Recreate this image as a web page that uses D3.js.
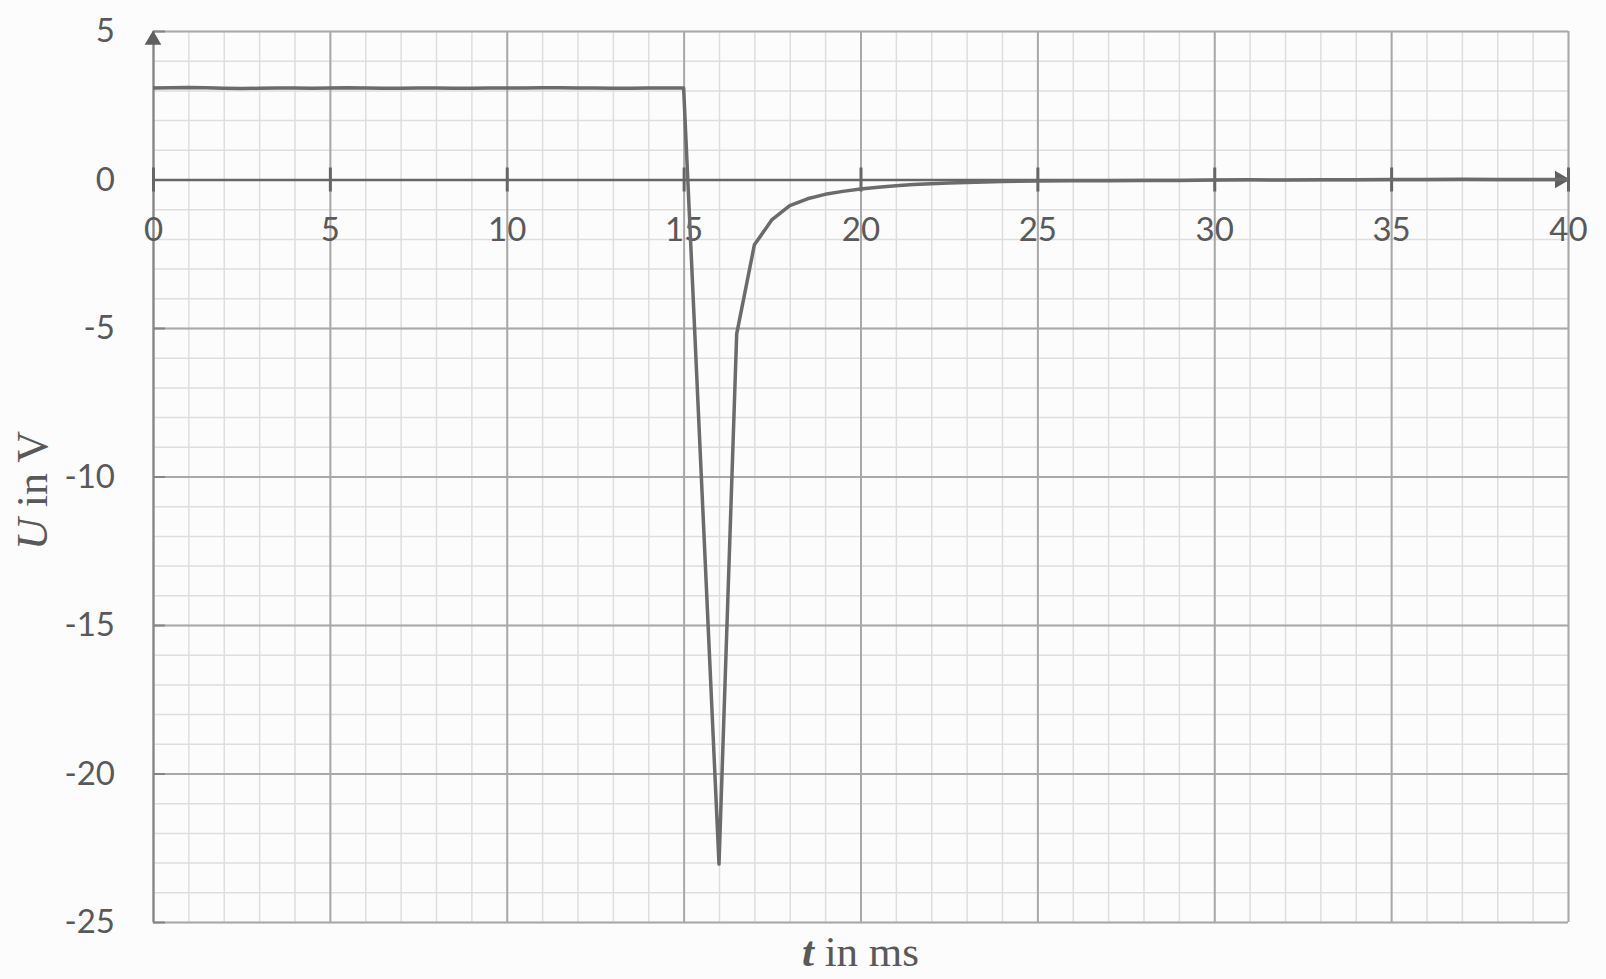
<!DOCTYPE html>
<html>
<head>
<meta charset="utf-8">
<script src="https://cdn.jsdelivr.net/npm/d3@7"></script>
<style>
  html, body { margin: 0; padding: 0; background: #fcfcfc; }
  svg { display: block; }
</style>
</head>
<body>
<svg id="chart" width="1606" height="979"></svg>
<script>
// measured signal
var time = [0, 0.5, 1, 1.5, 2, 2.5, 3, 3.5, 4, 4.5, 5, 5.5, 6, 6.5, 7, 7.5, 8, 8.5, 9, 9.5,
  10, 10.5, 11, 11.5, 12, 12.5, 13, 13.5, 14, 14.5, 15, 16, 16.5, 17, 17.5, 18, 18.5, 19, 19.5,
  20, 20.5, 21, 21.5, 22, 22.5, 23, 24, 25, 26, 27, 28, 29, 30, 31, 32, 33, 34, 35, 36, 37, 38, 39, 40];
var voltage = [3.08, 3.09, 3.10, 3.09, 3.07, 3.06, 3.07, 3.08, 3.08, 3.07, 3.08, 3.09, 3.08, 3.07, 3.07, 3.08, 3.08, 3.07, 3.07, 3.08,
  3.08, 3.08, 3.09, 3.09, 3.08, 3.08, 3.07, 3.07, 3.08, 3.08, 3.08, -23.05, -5.2, -2.2, -1.35, -0.88, -0.65, -0.5, -0.4,
  -0.32, -0.26, -0.21, -0.17, -0.14, -0.12, -0.1, -0.07, -0.05, -0.04, -0.04, -0.03, -0.03, -0.02, -0.01, -0.02, -0.01, -0.01, 0, 0, 0.01, 0, 0, 0];

var xTicks = [0, 5, 10, 15, 20, 25, 30, 35, 40];
var yTicks = [5, 0, -5, -10, -15, -20, -25];

var svg = d3.select("#chart");
var margin = {top: 31, right: 38, bottom: 57, left: 153};
var width = 1606 - margin.left - margin.right,
    height = 979 - margin.top - margin.bottom;

var xScale = d3.scaleLinear().domain([0, 40]).range([margin.left, margin.left + width]);
var yScale = d3.scaleLinear().domain([-25, 5]).range([margin.top + height, margin.top]);

// plain hyphen like the original labels
var fmt = function(d) { return String(d); };

var g = svg.append("g");

// minor grid, every 1 ms / 1 V
g.append("g")
  .attr("transform", "translate(" + margin.left + ",0)")
  .call(d3.axisLeft(yScale).ticks(30).tickSize(-width).tickFormat(""))
  .call(function(s) { s.select(".domain").remove(); })
  .selectAll("line").attr("stroke", "#dedede").attr("stroke-width", 1.5);
g.append("g")
  .attr("transform", "translate(0," + margin.top + ")")
  .call(d3.axisTop(xScale).ticks(40).tickSize(-height).tickFormat(""))
  .call(function(s) { s.select(".domain").remove(); })
  .selectAll("line").attr("stroke", "#dedede").attr("stroke-width", 1.5);

// major grid
g.append("g")
  .attr("transform", "translate(" + margin.left + ",0)")
  .call(d3.axisLeft(yScale).tickValues(yTicks).tickSize(-width).tickFormat(""))
  .call(function(s) { s.select(".domain").remove(); })
  .selectAll("line").attr("stroke", "#a8a8a8").attr("stroke-width", 2);
g.append("g")
  .attr("transform", "translate(0," + margin.top + ")")
  .call(d3.axisTop(xScale).tickValues(xTicks).tickSize(-height).tickFormat(""))
  .call(function(s) { s.select(".domain").remove(); })
  .selectAll("line").attr("stroke", "#a8a8a8").attr("stroke-width", 2);

// y axis with crossing ticks
var yAxis = g.append("g")
  .attr("transform", "translate(" + margin.left + ",0)")
  .call(d3.axisLeft(yScale).tickValues(yTicks).tickFormat(fmt).tickSize(12).tickPadding(26).tickSizeOuter(0));
yAxis.select(".domain").attr("stroke", "#858585").attr("stroke-width", 2);
yAxis.selectAll(".tick line").attr("x2", 12).attr("stroke", "#858585").attr("stroke-width", 2);
yAxis.selectAll(".tick text")
  .attr("fill", "#595959")
  .style("font-family", "Lato, 'Open Sans', sans-serif")
  .style("font-size", "33px");

// arrow heads
svg.append("path")
  .attr("d", d3.symbol().type(d3.symbolTriangle).size(120))
  .attr("transform", "translate(" + xScale(0) + "," + (yScale(5) + 9) + ")")
  .attr("fill", "#5f5f5f");

// x axis at U = 0 with crossing ticks
var xAxis = g.append("g")
  .attr("transform", "translate(0," + yScale(0) + ")")
  .call(d3.axisBottom(xScale).tickValues(xTicks).tickFormat(fmt).tickSize(12).tickPadding(26).tickSizeOuter(0));
xAxis.select(".domain").attr("stroke", "#666").attr("stroke-width", 2.5);
xAxis.selectAll(".tick line").attr("y1", -12).attr("stroke", "#666").attr("stroke-width", 3);
xAxis.selectAll(".tick text")
  .attr("fill", "#595959")
  .style("font-family", "Lato, 'Open Sans', sans-serif")
  .style("font-size", "33px");

svg.append("path")
  .attr("d", d3.symbol().type(d3.symbolTriangle).size(130))
  .attr("transform", "translate(" + (xScale(40) - 8) + "," + yScale(0) + ") rotate(90)")
  .attr("fill", "#5f5f5f");

// signal line
var line = d3.line()
  .x(function(d, i) { return xScale(time[i]); })
  .y(function(d) { return yScale(d); });

svg.append("path")
  .datum(voltage)
  .attr("d", line)
  .attr("fill", "none")
  .attr("stroke", "#6b6b6b")
  .attr("stroke-width", 3.5)
  .attr("stroke-linejoin", "round");

// axis titles
var xt = svg.append("text")
  .attr("x", xScale(20))
  .attr("y", 966)
  .attr("text-anchor", "middle")
  .attr("fill", "#595959")
  .style("font-family", "'Liberation Serif', serif")
  .style("font-size", "43px");
xt.append("tspan").attr("font-weight", "bold").attr("font-style", "italic").text("t");
xt.append("tspan").text(" in ms");

var yt = svg.append("text")
  .attr("transform", "translate(47," + (yScale(-10) + 14) + ") rotate(-90)")
  .attr("text-anchor", "middle")
  .attr("fill", "#595959")
  .style("font-family", "'Liberation Serif', serif")
  .style("font-size", "44px");
yt.append("tspan").attr("font-style", "italic").text("U");
yt.append("tspan").text(" in V");
</script>
</body>
</html>
